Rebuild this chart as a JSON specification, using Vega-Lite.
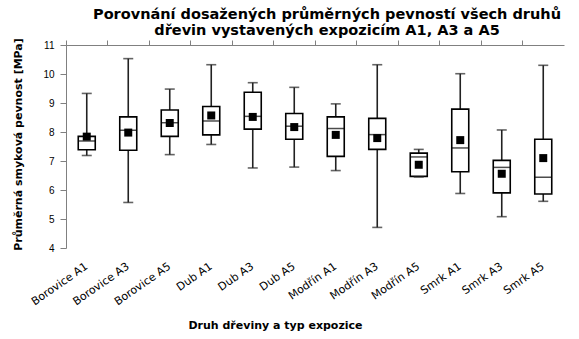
{
  "$schema": "https://vega.github.io/schema/vega-lite/v6.json",
  "width": 498,
  "height": 203,
  "autosize": {"type": "none"},
  "padding": {"left": 66, "top": 45, "right": 15, "bottom": 91},
  "background": "white",
  "config": {
    "font": "Liberation Sans",
    "view": {"stroke": null},
    "axisY": {"grid": false, "tickSize": 6, "tickColor": "#808080", "domainColor": "#808080", "labelFontSize": 10, "labelColor": "black", "labelPadding": 6, "labelOverlap": false, "labelFlush": false,
      "titleFont": "DejaVu Sans", "titleFontSize": 11, "titleFontWeight": "bold", "titleColor": "black", "titleX": -43, "titleY": 99}
  },
  "title": {
    "text": ["Porovnání dosažených průměrných pevností všech druhů", "dřevin vystavených expozicím A1, A3 a A5"],
    "font": "DejaVu Sans",
    "fontSize": 14.5,
    "fontWeight": "bold",
    "anchor": "middle",
    "dx": 12,
    "offset": -1,
    "lineHeight": 16.5,
    "color": "black"
  },
  "data": {
    "values": [
      {"cat": "Borovice A1", "min": 7.19, "q1": 7.39, "med": 7.69, "q3": 7.85, "max": 9.33, "mean": 7.84},
      {"cat": "Borovice A3", "min": 5.57, "q1": 7.37, "med": 8.06, "q3": 8.52, "max": 10.53, "mean": 7.98},
      {"cat": "Borovice A5", "min": 7.22, "q1": 7.85, "med": 8.32, "q3": 8.76, "max": 9.48, "mean": 8.31},
      {"cat": "Dub A1", "min": 7.57, "q1": 7.90, "med": 8.38, "q3": 8.88, "max": 10.32, "mean": 8.57},
      {"cat": "Dub A3", "min": 6.76, "q1": 8.10, "med": 8.54, "q3": 9.37, "max": 9.70, "mean": 8.52},
      {"cat": "Dub A5", "min": 6.79, "q1": 7.75, "med": 8.20, "q3": 8.64, "max": 9.54, "mean": 8.17},
      {"cat": "Modřín A1", "min": 6.67, "q1": 7.16, "med": 8.12, "q3": 8.52, "max": 8.97, "mean": 7.90},
      {"cat": "Modřín A3", "min": 4.71, "q1": 7.40, "med": 7.91, "q3": 8.47, "max": 10.32, "mean": 7.79},
      {"cat": "Modřín A5", "min": 6.45, "q1": 6.47, "med": 7.14, "q3": 7.27, "max": 7.40, "mean": 6.87},
      {"cat": "Smrk A1", "min": 5.88, "q1": 6.63, "med": 7.45, "q3": 8.79, "max": 10.01, "mean": 7.72},
      {"cat": "Smrk A3", "min": 5.08, "q1": 5.90, "med": 6.78, "q3": 7.02, "max": 8.07, "mean": 6.56},
      {"cat": "Smrk A5", "min": 5.61, "q1": 5.86, "med": 6.44, "q3": 7.75, "max": 10.30, "mean": 7.10}
    ]
  },
  "resolve": {"axis": {"x": "independent"}},
  "layer": [
    {
      "mark": {"type": "rule", "color": "#222", "strokeWidth": 1.6},
      "encoding": {
        "x": {"field": "cat", "type": "nominal", "sort": null, "scale": {"paddingInner": 0, "paddingOuter": 0}, "title": "Druh dřeviny a typ expozice",
          "axis": {"labelAngle": -35, "labelAlign": "right", "labelBaseline": "middle", "labelFont": "DejaVu Sans", "labelFontSize": 11, "labelColor": "black", "labelPadding": 17, "ticks": false, "domain": false,
            "titleFont": "DejaVu Sans", "titleFontSize": 11, "titleFontWeight": "bold", "titleColor": "black", "titleX": 209, "titleY": 71}},
        "y": {"field": "min", "type": "quantitative", "scale": {"domain": [4, 11], "nice": false, "zero": false},
          "title": "Průměrná smyková pevnost [MPa]", "axis": {"values": [4, 5, 6, 7, 8, 9, 10, 11]}},
        "y2": {"field": "max"}
      }
    },
    {
      "mark": {"type": "bar", "fill": "white", "stroke": "black", "strokeWidth": 1.6, "size": 17},
      "encoding": {
        "x": {"field": "cat", "type": "nominal", "sort": null, "axis": {"labels": false, "ticks": true, "bandPosition": 0, "tickSize": 5, "tickColor": "#808080", "domainColor": "#808080", "title": null}},
        "y": {"field": "q1", "type": "quantitative", "title": "Průměrná smyková pevnost [MPa]", "axis": {"values": [4, 5, 6, 7, 8, 9, 10, 11]}},
        "y2": {"field": "q3"}
      }
    },
    {
      "mark": {"type": "tick", "color": "black", "thickness": 1.5, "size": 17},
      "encoding": {
        "x": {"field": "cat", "type": "nominal", "sort": null, "axis": null},
        "y": {"field": "med", "type": "quantitative", "title": "Průměrná smyková pevnost [MPa]", "axis": {"values": [4, 5, 6, 7, 8, 9, 10, 11]}}
      }
    },
    {
      "mark": {"type": "tick", "color": "#222", "thickness": 1.6, "size": 10},
      "encoding": {
        "x": {"field": "cat", "type": "nominal", "sort": null, "axis": null},
        "y": {"field": "min", "type": "quantitative", "title": "Průměrná smyková pevnost [MPa]", "axis": {"values": [4, 5, 6, 7, 8, 9, 10, 11]}}
      }
    },
    {
      "mark": {"type": "tick", "color": "#222", "thickness": 1.6, "size": 10},
      "encoding": {
        "x": {"field": "cat", "type": "nominal", "sort": null, "axis": null},
        "y": {"field": "max", "type": "quantitative", "title": "Průměrná smyková pevnost [MPa]", "axis": {"values": [4, 5, 6, 7, 8, 9, 10, 11]}}
      }
    },
    {
      "mark": {"type": "square", "color": "black", "opacity": 1, "filled": true, "size": 64},
      "encoding": {
        "x": {"field": "cat", "type": "nominal", "sort": null, "axis": null},
        "y": {"field": "mean", "type": "quantitative", "title": "Průměrná smyková pevnost [MPa]", "axis": {"values": [4, 5, 6, 7, 8, 9, 10, 11]}}
      }
    }
  ]
}
